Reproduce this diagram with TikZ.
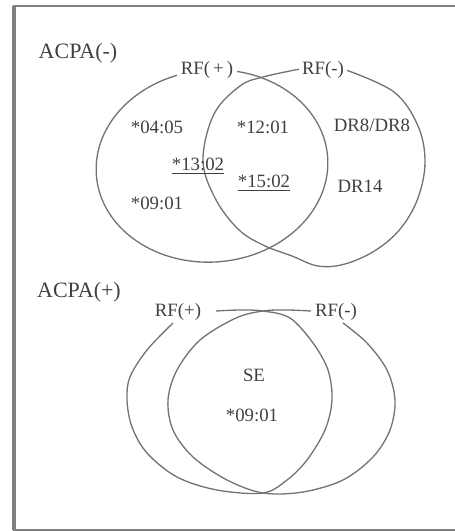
\documentclass[tikz,border=0pt]{standalone}
\usepackage{fontspec}
\setmainfont{Liberation Serif}
\begin{document}
\begin{tikzpicture}[x=0.02cm,y=-0.02cm,
  venn/.style={draw=black!55,line width=0.75pt},
  frameline/.style={draw=black!50},
  big/.style={text=black!75,font=\fontsize{12.5}{14}\selectfont,inner sep=1pt},
  lbl/.style={text=black!75,font=\fontsize{10.7}{12}\selectfont,inner sep=1pt},
  setlbl/.style={lbl,fill=white,inner sep=2pt}]
\useasboundingbox (0,0) rectangle (455,531);
% frame
\draw[frameline,line width=2.2pt] (14,6) -- (14,530);
\draw[frameline,line width=1.1pt] (13,6) -- (455,6);
\draw[frameline,line width=0.6pt] (13,530) -- (455,530);

% ---------- top Venn (ACPA(-)) ----------
\draw[venn,rotate around={5:(212,166)}] (212,166) ellipse [x radius=116, y radius=96];
\draw[venn] plot[smooth,tension=0.6] coordinates {
 (346,70) (394,92) (418,126) (425,162) (418,198) (401,228) (376,250) (345,264) (318,266)
 (292,256) (263,245) (238,229) (215,198) (203,160) (214,114) (240,86) (263,77) (300,69)};

\node[big] (acpam) at (78,53) {ACPA(-)};
\node[setlbl] (rfpt) at (207,70) {RF(\,+\,)};
\node[setlbl] (rfmt) at (323,70) {RF(-)};
\node[lbl] (a0405) at (157,127) {*04:05};
\node[lbl] (a1201) at (263,127) {*12:01};
\node[lbl] (dr8) at (372,125) {DR8/DR8};
\node[lbl] (a1302) at (198,166) {\underline{*13:02}};
\node[lbl] (a1502) at (264,183) {\underline{*15:02}};
\node[lbl] (a0901) at (157,203) {*09:01};
\node[lbl] (dr14) at (360,186) {DR14};

% ---------- bottom Venn (ACPA(+)) ----------
\draw[venn] plot[smooth,tension=0.55] coordinates {
 (216,311) (240,310) (263,311) (290,318) (313,343) (328,370) (332,400) (325,430)
 (307,460) (287,480) (263,493) (217,490) (177,477) (147,453) (132,427) (127,400)
 (130,377) (147,350) (173,323)};
\draw[venn] plot[smooth,tension=0.55] coordinates {
 (311,311) (287,310) (263,311) (236,318) (200,340) (177,370) (168,400) (173,430)
 (193,457) (227,480) (263,493) (303,492) (343,480) (373,457) (390,430) (395,400)
 (387,370) (367,343) (343,323)};

\node[big] (acpap) at (79,292) {ACPA(+)};
\node[lbl] (rfpb) at (178,312) {RF(+)};
\node[lbl] (rfmb) at (336,312) {RF(-)};
\node[lbl] (se) at (254,375) {SE};
\node[lbl] (b0901) at (252,415) {*09:01};
\end{tikzpicture}
\end{document}
